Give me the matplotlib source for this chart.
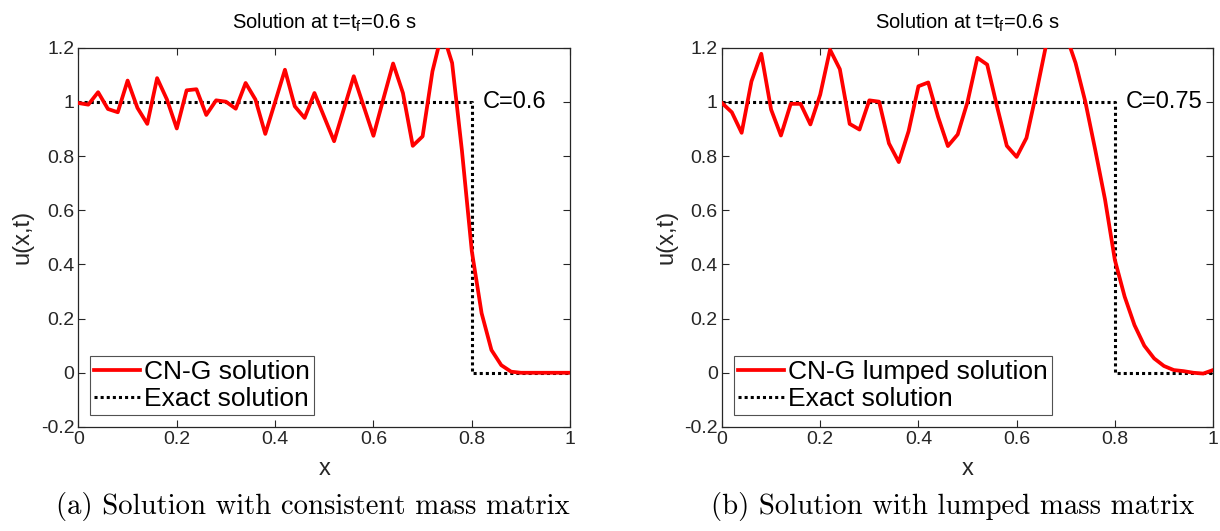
import numpy as np
import matplotlib
matplotlib.use("Agg")
import matplotlib.pyplot as plt

# ---- data -------------------------------------------------------------
x_nodes = np.round(np.arange(0, 1.0001, 0.02), 2)

u_consistent = [0.996, 0.99, 1.036, 0.974, 0.962, 1.079, 0.978, 0.919, 1.088, 1.009,
                0.902, 1.043, 1.047, 0.952, 1.006, 1.001, 0.975, 1.07, 1.009, 0.882,
                1.0, 1.119, 0.984, 0.941, 1.033,
                0.944, 0.855, 0.975, 1.095, 0.985, 0.875, 1.01, 1.142, 1.033, 0.838,
                0.873, 1.113, 1.26, 1.144, 0.82, 0.45, 0.22, 0.084, 0.028, 0.004,
                0.0, 0.0, 0.0, 0.0, 0.0, 0.0]

u_lumped = [0.996, 0.962, 0.886, 1.076, 1.178, 0.972, 0.876, 0.993, 0.993, 0.917,
            1.027, 1.193, 1.121, 0.919, 0.898, 1.006, 1.001, 0.847, 0.778, 0.892,
            1.058, 1.072, 0.945, 0.837, 0.88, 1.0, 1.163, 1.138, 0.984, 0.838,
            0.797, 0.867, 1.033, 1.21, 1.28, 1.25, 1.144, 1.0, 0.824, 0.64,
            0.417, 0.281, 0.176, 0.10, 0.053, 0.025, 0.01, 0.006, 0.0, -0.003, 0.01]

x_exact = [0.0, 0.8, 0.8, 1.0]
u_exact = [1.0, 1.0, 0.0, 0.0]

courant = ["C=0.6", "C=0.75"]
series_labels = ["CN-G solution", "CN-G lumped solution"]
captions = ["(a) Solution with consistent mass matrix",
            "(b) Solution with lumped mass matrix"]
xticks = [0, 0.2, 0.4, 0.6, 0.8, 1]
xticklabels = ["0", "0.2", "0.4", "0.6", "0.8", "1"]
yticks = [-0.2, 0, 0.2, 0.4, 0.6, 0.8, 1, 1.2]
yticklabels = ["-0.2", "0", "0.2", "0.4", "0.6", "0.8", "1", "1.2"]

# ---- plot -------------------------------------------------------------
plt.rcParams['font.family'] = ['Liberation Sans', 'DejaVu Sans']
fig = plt.figure(figsize=(12.2, 5.31), dpi=100)

positions = [[0.0643, 0.196, 0.403, 0.714], [0.5918, 0.196, 0.4025, 0.714]]
caption_x = [0.256, 0.781]
curves = [u_consistent, u_lumped]
axc = '#262626'

for i in range(2):
    ax = fig.add_axes(positions[i])
    ax.plot(x_nodes, curves[i], color='#ff0000', lw=2.7, label=series_labels[i],
            solid_joinstyle='round', zorder=3)
    ax.plot(x_exact, u_exact, color='black', lw=2.2, ls=(0, (1, 1)),
            label='Exact solution', zorder=2)
    ax.set_xlim(0, 1)
    ax.set_ylim(-0.2, 1.2)
    ax.set_xticks(xticks)
    ax.set_xticklabels(xticklabels)
    ax.set_yticks(yticks)
    ax.set_yticklabels(yticklabels)
    ax.tick_params(direction='in', top=True, right=True, length=5, width=0.8,
                   labelsize=14, colors=axc, pad=3)
    for s in ax.spines.values():
        s.set_color(axc)
        s.set_linewidth(0.9)
    ax.set_xlabel('x', fontsize=17, color=axc, labelpad=7)
    ax.set_ylabel('u(x,t)', fontsize=17, color=axc, labelpad=5)
    ax.set_title(r'Solution at t=t$_\mathregular{f}$=0.6 s', fontsize=14.5,
                 color='black', pad=14)
    ax.text(0.823, 1.0, courant[i], fontsize=17, va='center', ha='left',
            color='black')
    leg = ax.legend(loc='lower left', fontsize=19, frameon=True, fancybox=False,
                    handlelength=1.75, handletextpad=0.15, borderpad=0.15,
                    labelspacing=0.12, borderaxespad=0.45)
    leg.get_frame().set_edgecolor(axc)
    leg.get_frame().set_linewidth(0.8)
    fig.text(caption_x[i], 0.047, captions[i], fontsize=20.7, family='cmr10',
             ha='center', va='center')

fig.savefig('out.png', dpi=100)
